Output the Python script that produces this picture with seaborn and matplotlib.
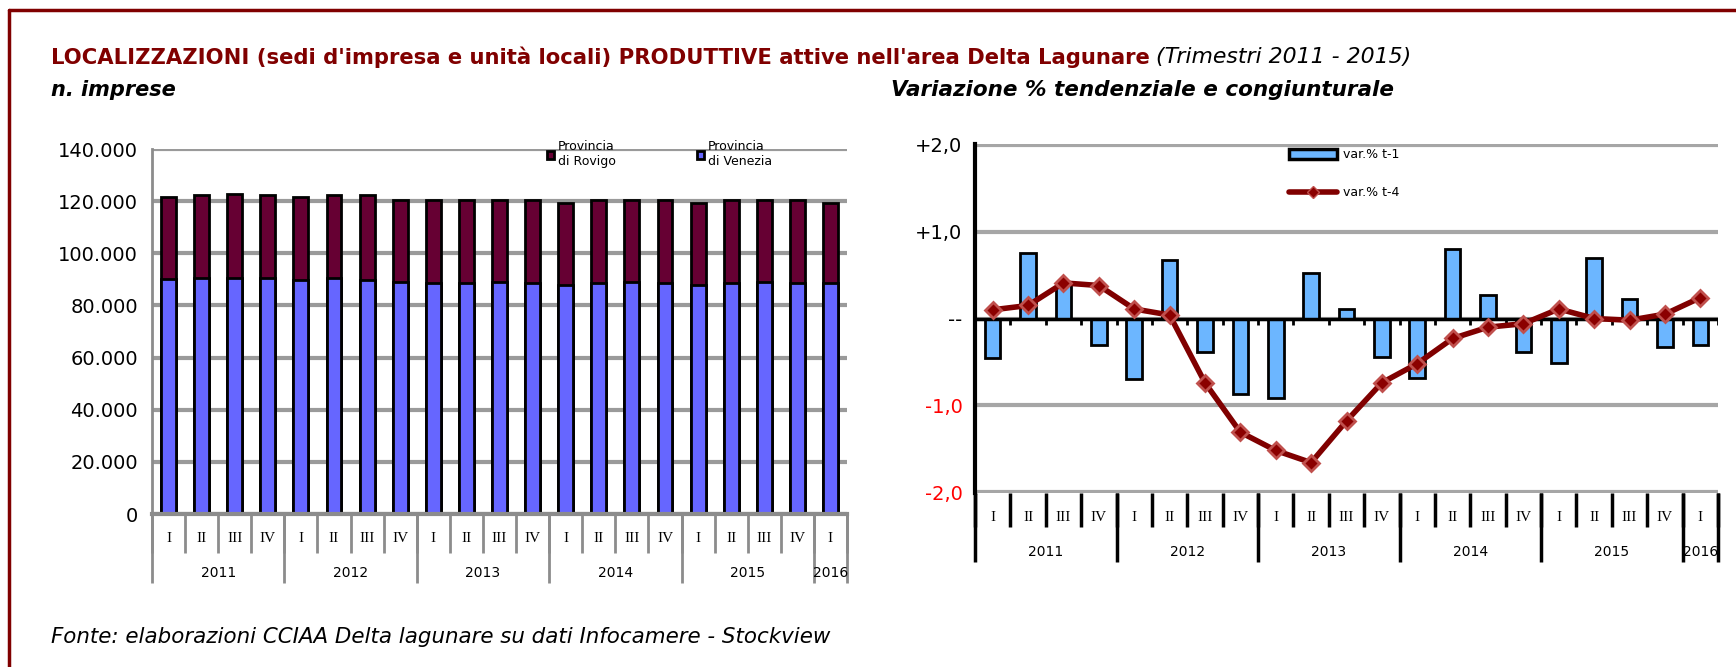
import numpy as np
import matplotlib
matplotlib.use('Agg')
import matplotlib.pyplot as plt
from matplotlib.patches import Patch
from matplotlib.lines import Line2D
import seaborn as sns

# Data
quarters = ['I', 'II', 'III', 'IV'] * 5 + ['I']
years = ['2011', '2012', '2013', '2014', '2015', '2016']
year_spans = [4, 4, 4, 4, 4, 1]

venezia = [90100, 90600, 90600, 90600, 89800, 90600, 89800, 89000, 88500, 88500, 89000,
           88500, 87800, 88500, 89000, 88500, 87800, 88500, 89000, 88500, 88500]
rovigo = [31300, 31600, 32300, 31600, 31600, 31600, 32400, 31600, 31800, 31800, 31600,
          31800, 31600, 31800, 31300, 31800, 31600, 31800, 31300, 31800, 30900]

var_t1 = [-0.46, 0.76, 0.40, -0.31, -0.70, 0.67, -0.39, -0.87, -0.91, 0.52, 0.11,
          -0.44, -0.68, 0.80, 0.27, -0.39, -0.51, 0.70, 0.22, -0.33, -0.31]
var_t4 = [0.10, 0.15, 0.41, 0.38, 0.11, 0.04, -0.74, -1.31, -1.52, -1.66, -1.18,
          -0.74, -0.52, -0.23, -0.10, -0.06, 0.11, 0.00, -0.02, 0.05, 0.24]

left_ticks = [0, 20000, 40000, 60000, 80000, 100000, 120000, 140000]
right_ticks = [-2, -1, 0, 1, 2]
right_labels = ['-2,0', '-1,0', '--', '+1,0', '+2,0']

DARKRED = '#800000'
C_VEN = '#6666FF'
C_ROV = '#660033'
C_T1 = '#6CB6FF'

sns.set_style('white')
plt.rcParams['font.family'] = ['DejaVu Sans']
plt.rcParams['text.color'] = 'black'
plt.rcParams['ytick.labelcolor'] = 'black'

W, H = 1736, 667
fig = plt.figure(figsize=(W / 100, H / 100), dpi=100)

def box(l, t, r, b):
    return [l / W, 1 - b / H, (r - l) / W, (b - t) / H]

idx = np.arange(len(quarters))
totale = np.array(venezia) + np.array(rovigo)


def category_axis(ax, q_y, q_sep, y_y, y_sep, color, lw):
    tr = ax.get_xaxis_transform()
    n = len(quarters)
    for i, q in enumerate(quarters):
        ax.text(i, q_y, q, transform=tr, ha='center', va='center', fontsize=11,
                family='Liberation Serif', clip_on=False)
    for i in range(n + 1):
        ax.plot([i - 0.5, i - 0.5], [0, q_sep], transform=tr, color=color, lw=lw,
                clip_on=False, solid_capstyle='butt')
    start = 0
    for yr, span in zip(years, year_spans):
        ax.text(start + span / 2 - 0.5, y_y, yr, transform=tr, ha='center', va='center',
                fontsize=10, clip_on=False)
        ax.plot([start - 0.5, start - 0.5], [0, y_sep], transform=tr, color=color, lw=lw,
                clip_on=False, solid_capstyle='butt')
        start += span
    ax.plot([start - 0.5, start - 0.5], [0, y_sep], transform=tr, color=color, lw=lw,
            clip_on=False, solid_capstyle='butt')


# ---- left chart: stacked bars
ax1 = fig.add_axes(box(152, 149, 847, 514))
sns.barplot(x=idx, y=totale, color=C_ROV, saturation=1, width=0.45, edgecolor='black',
            linewidth=2, errorbar=None, ax=ax1)
sns.barplot(x=idx, y=venezia, color=C_VEN, saturation=1, width=0.45, edgecolor='black',
            linewidth=2, errorbar=None, ax=ax1)
ax1.set_xlim(-0.5, len(quarters) - 0.5)
ax1.set_ylim(0, 140000)
ax1.set_yticks(left_ticks)
ax1.set_yticklabels([f'{v:,.0f}'.replace(',', '.') for v in left_ticks], fontsize=14)
ax1.set_xticks([])
ax1.set_xlabel('')
ax1.yaxis.grid(True, color='#9A9A9A', lw=3)
ax1.set_axisbelow(True)
for s in ['top', 'right']:
    ax1.spines[s].set_visible(False)
ax1.spines['left'].set_color('#8C8C8C')
ax1.spines['left'].set_linewidth(2)
ax1.spines['bottom'].set_color('#8C8C8C')
ax1.spines['bottom'].set_linewidth(3)
ax1.tick_params(axis='y', direction='out', length=6, width=2, color='#8C8C8C',
                labelcolor='black', pad=4)
category_axis(ax1, -0.068, -0.107, -0.162, -0.19, '#8C8C8C', 2)
ax1.legend(handles=[Patch(facecolor=C_ROV, edgecolor='black', lw=2, label='Provincia\ndi Rovigo'),
                    Patch(facecolor=C_VEN, edgecolor='black', lw=2, label='Provincia\ndi Venezia')],
           ncol=2, frameon=False, fontsize=9, handlelength=0.55, handleheight=0.55,
           handletextpad=0.3, columnspacing=6.5, loc='upper left',
           bbox_to_anchor=(536 / W, 1 - 129 / H), bbox_transform=fig.transFigure)

# ---- right chart: variations
ax2 = fig.add_axes(box(975, 144, 1718, 493))
sns.barplot(x=idx, y=var_t1, color=C_T1, saturation=1, width=0.44, edgecolor='black',
            linewidth=2, errorbar=None, ax=ax2, zorder=2)
sns.lineplot(x=idx, y=var_t4, color=DARKRED, lw=4, marker='D', markersize=8,
             markerfacecolor='#8B0000', markeredgecolor='#C0504D', markeredgewidth=2,
             ax=ax2, zorder=4)
ax2.set_xlim(-0.5, len(quarters) - 0.5)
ax2.set_ylim(-2.01, 2.01)
ax2.set_yticks(right_ticks)
ax2.set_yticklabels(right_labels, fontsize=14)
for lab, v in zip(ax2.get_yticklabels(), right_ticks):
    lab.set_color('red' if v < 0 else 'black')
ax2.set_xticks([])
ax2.set_xlabel('')
ax2.set_ylabel('')
ax2.yaxis.grid(True, color='#A6A6A6', lw=3)
ax2.set_axisbelow(True)
for s in ['top', 'right', 'bottom']:
    ax2.spines[s].set_visible(False)
ax2.spines['left'].set_color('black')
ax2.spines['left'].set_linewidth(3)
ax2.tick_params(axis='y', direction='out', length=5, width=2, color='black', pad=4)
ax2.axhline(0, color='black', lw=2.5, zorder=3)
ax2.vlines(np.arange(len(quarters) + 1) - 0.5, -0.07, 0, color='black', lw=2, zorder=3)
category_axis(ax2, -0.069, -0.097, -0.169, -0.197, 'black', 2.5)
ax2.legend(handles=[Patch(facecolor=C_T1, edgecolor='black', lw=2.5, label='var.% t-1'),
                    Line2D([], [], color=DARKRED, lw=4, marker='D', markersize=6,
                           markerfacecolor='#8B0000', markeredgecolor='#C0504D',
                           label='var.% t-4')],
           ncol=1, frameon=False, fontsize=9, handlelength=3.8, handleheight=0.8,
           handletextpad=0.5, labelspacing=2.0, loc='upper left',
           bbox_to_anchor=(1278 / W, 1 - 137 / H), bbox_transform=fig.transFigure)

# ---- titles and source
t1 = fig.text(51 / W, 1 - 57 / H,
              "LOCALIZZAZIONI (sedi d'impresa e unità locali) PRODUTTIVE attive nell'area Delta Lagunare",
              color=DARKRED, fontsize=15.2, fontweight='bold', va='center')
fig.canvas.draw()
bb = t1.get_window_extent()
fig.text(bb.x1 / W + 6 / W, 1 - 57 / H, '(Trimestri 2011 - 2015)', fontsize=15.8,
         style='italic', va='center')
fig.text(51 / W, 1 - 90 / H, 'n. imprese', fontsize=15, fontweight='bold', style='italic',
         va='center')
fig.text(891 / W, 1 - 90 / H, 'Variazione % tendenziale e congiunturale', fontsize=15.5,
         fontweight='bold', style='italic', va='center')
fig.text(51 / W, 1 - 637 / H, 'Fonte: elaborazioni CCIAA Delta lagunare su dati Infocamere - Stockview',
         fontsize=15.4, style='italic', va='center')

# frame
fig.add_artist(Line2D([9 / W, 1], [1 - 10 / H, 1 - 10 / H], color=DARKRED, lw=2.5))
fig.add_artist(Line2D([9 / W, 9 / W], [0, 1 - 10 / H], color=DARKRED, lw=2.5))

fig.savefig('out.png', dpi=100)
